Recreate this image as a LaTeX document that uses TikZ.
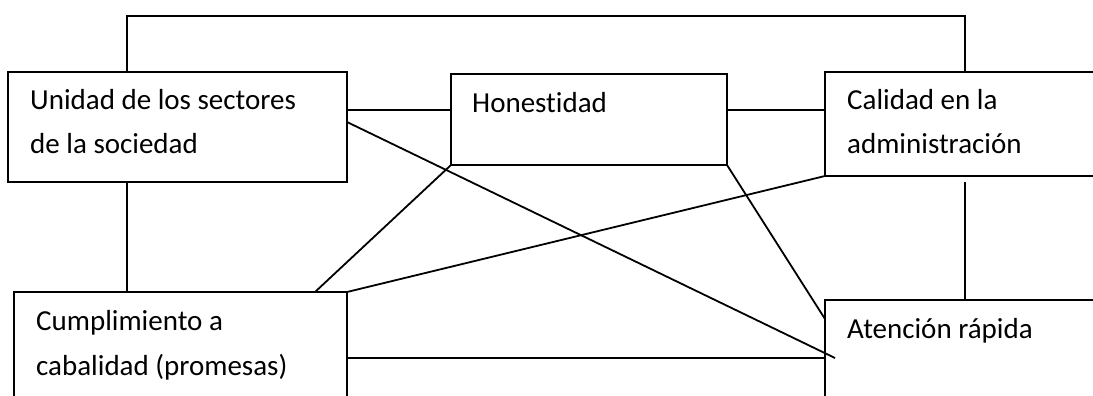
\documentclass[tikz,border=0pt]{standalone}
\usepackage{fontspec}
\setmainfont{Carlito}[Ligatures={NoCommon}]
\begin{document}
\begin{tikzpicture}[x=1pt,y=-1pt,
  box/.style={draw, line width=1.8pt, rectangle, inner sep=0pt, outer sep=0pt, anchor=north west},
  lbl/.style={anchor=base west, inner sep=0pt, font=\fontsize{29}{41}\selectfont},
  conn/.style={line width=1.8pt}]
\useasboundingbox (0,0) rectangle (1093,396);
\clip (0,0) rectangle (1093,396);
% boxes
\node[box, minimum width=339pt, minimum height=110pt] (uni) at (8,72) {};
\node[box, minimum width=276pt, minimum height=91pt] (hon) at (451,74) {};
\node[box, minimum width=300pt, minimum height=104pt] (cal) at (825,72) {};
\node[box, minimum width=333pt, minimum height=130pt] (cum) at (14,292) {};
\node[box, minimum width=300pt, minimum height=130pt] (ate) at (825,300) {};
% labels
\node[lbl] (uniA) at (30,110) {Unidad de los sectores};
\node[lbl] (uniB) at (30,153) {de la sociedad};
\node[lbl] (honA) at (472,113) {Honestidad};
\node[lbl] (calA) at (847,110) {Calidad en la};
\node[lbl] (calB) at (847,153) {administración};
\node[lbl] (cumA) at (36,330) {Cumplimiento a};
\node[lbl] (cumB) at (36,375) {cabalidad (promesas)};
\node[lbl] (ateA) at (847,338) {Atención rápida};
% helper coordinates
\coordinate (topL) at (127,16);
\coordinate (topR) at (965,16);
\coordinate (calGap) at (965,182);
\coordinate (ateIn) at (835,358);
% connectors
\draw[conn] (127,0 |- uni.north) -- (topL) -- (topR) -- (965,0 |- cal.north);
\draw[conn] (uni.east |- 0,110) -- (hon.west |- 0,110);
\draw[conn] (hon.east |- 0,110) -- (cal.west |- 0,110);
\draw[conn] (127,0 |- uni.south) -- (127,0 |- cum.north);
\draw[conn] (calGap) -- (965,0 |- ate.north);
\draw[conn] (uni.east |- 0,122) -- (ateIn);
\draw[conn] (hon.south west) -- (315,0 |- cum.north);
\draw[conn] (hon.south east) -- (ate.west |- 0,319);
\draw[conn] (cal.south west) -- (cum.north east);
\draw[conn] (cum.east |- 0,358) -- (ate.west |- 0,358);
\end{tikzpicture}
\end{document}
